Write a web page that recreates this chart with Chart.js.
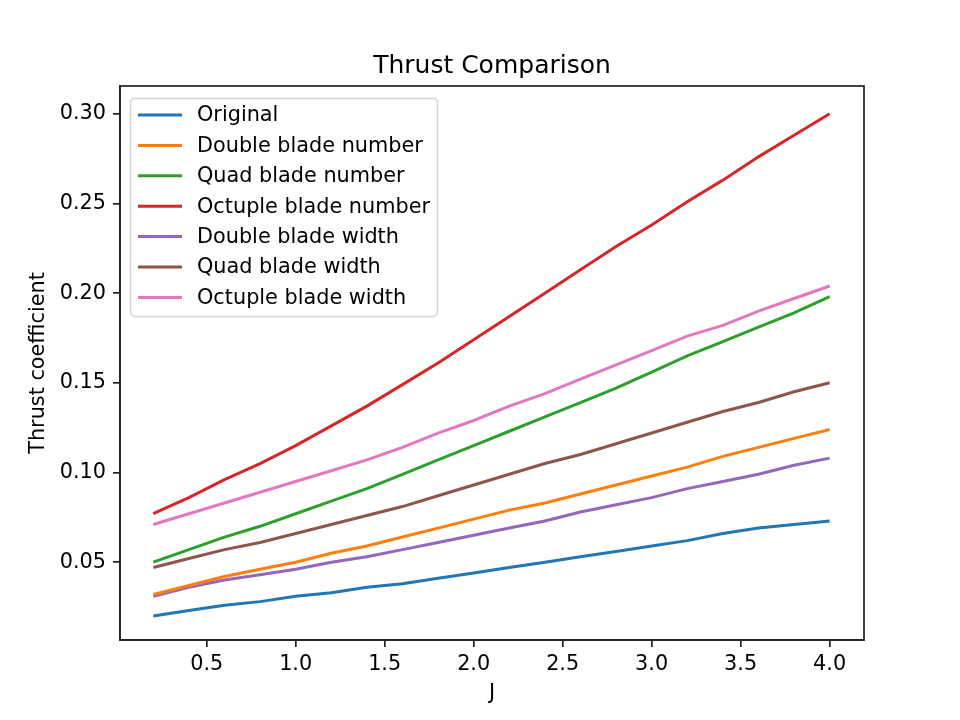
<!DOCTYPE html>
<html>
<head>
<meta charset="utf-8">
<script src="https://cdn.jsdelivr.net/npm/chart.js@4.4.1/dist/chart.umd.min.js"></script>
<style>
  body { margin: 0; background: #fff; }
  canvas { display: block; }
</style>
</head>
<body>
<canvas id="thrustChart" width="960" height="720"></canvas>
<script>
const jValues = [0.2, 0.4, 0.6, 0.8, 1.0, 1.2, 1.4, 1.6, 1.8, 2.0, 2.2, 2.4, 2.6, 2.8, 3.0, 3.2, 3.4, 3.6, 3.8, 4.0];

const original = [0.020, 0.023, 0.026, 0.028, 0.031, 0.033, 0.036, 0.038, 0.041, 0.044, 0.047, 0.050, 0.053, 0.056, 0.059, 0.062, 0.066, 0.069, 0.071, 0.073];
const doubleNumber = [0.032, 0.037, 0.042, 0.046, 0.050, 0.055, 0.059, 0.064, 0.069, 0.074, 0.079, 0.083, 0.088, 0.093, 0.098, 0.103, 0.109, 0.114, 0.119, 0.124];
const quadNumber = [0.050, 0.057, 0.064, 0.070, 0.077, 0.084, 0.091, 0.099, 0.107, 0.115, 0.123, 0.131, 0.139, 0.147, 0.156, 0.165, 0.173, 0.181, 0.189, 0.198];
const octupleNumber = [0.077, 0.086, 0.096, 0.105, 0.115, 0.126, 0.137, 0.149, 0.161, 0.174, 0.187, 0.200, 0.213, 0.226, 0.238, 0.251, 0.263, 0.276, 0.288, 0.300];
const doubleWidth = [0.031, 0.036, 0.040, 0.043, 0.046, 0.050, 0.053, 0.057, 0.061, 0.065, 0.069, 0.073, 0.078, 0.082, 0.086, 0.091, 0.095, 0.099, 0.104, 0.108];
const quadWidth = [0.047, 0.052, 0.057, 0.061, 0.066, 0.071, 0.076, 0.081, 0.087, 0.093, 0.099, 0.105, 0.110, 0.116, 0.122, 0.128, 0.134, 0.139, 0.145, 0.150];
const octupleWidth = [0.071, 0.077, 0.083, 0.089, 0.095, 0.101, 0.107, 0.114, 0.122, 0.129, 0.137, 0.144, 0.152, 0.160, 0.168, 0.176, 0.182, 0.190, 0.197, 0.204];

const seriesLabels = ['Original', 'Double blade number', 'Quad blade number', 'Octuple blade number',
    'Double blade width', 'Quad blade width', 'Octuple blade width'];
const seriesValues = [original, doubleNumber, quadNumber, octupleNumber, doubleWidth, quadWidth, octupleWidth];
const seriesColors = ['#1f77b4', '#ff7f0e', '#2ca02c', '#d62728', '#9467bd', '#8c564b', '#e377c2'];

const xTicks = [0.5, 1.0, 1.5, 2.0, 2.5, 3.0, 3.5, 4.0];
const yTicks = [0.05, 0.10, 0.15, 0.20, 0.25, 0.30];

const FONT = 'DejaVu Sans';
const TEXT_SIZE = 20.8;

// title, frame box and in-axes legend, matplotlib style
const decorations = {
    id: 'decorations',
    afterDraw(chart) {
        const { ctx, chartArea } = chart;
        ctx.save();

        ctx.strokeStyle = '#222';
        ctx.lineWidth = 1.7;
        ctx.strokeRect(chartArea.left, chartArea.top,
            chartArea.right - chartArea.left, chartArea.bottom - chartArea.top);

        ctx.fillStyle = '#000';
        ctx.font = '25px "' + FONT + '"';
        ctx.textAlign = 'center';
        ctx.textBaseline = 'middle';
        ctx.fillText('Thrust Comparison', (chartArea.left + chartArea.right) / 2, 66);

        // legend
        const bx = chartArea.left + 10, by = chartArea.top + 12;
        const bw = 307, bh = 218;
        ctx.beginPath();
        ctx.roundRect(bx + 0.5, by + 0.5, bw, bh, 4);
        ctx.fillStyle = 'rgba(255,255,255,0.8)';
        ctx.fill();
        ctx.strokeStyle = '#d6d6d6';
        ctx.lineWidth = 1.5;
        ctx.stroke();

        ctx.font = TEXT_SIZE + 'px "' + FONT + '"';
        ctx.textAlign = 'left';
        chart.data.datasets.forEach((ds, i) => {
            const y = by + 17 + i * 30.4;
            ctx.beginPath();
            ctx.moveTo(bx + 8, y);
            ctx.lineTo(bx + 52, y);
            ctx.strokeStyle = ds.borderColor;
            ctx.lineWidth = 3;
            ctx.stroke();
            ctx.fillStyle = '#000';
            ctx.fillText(ds.label, bx + 67, y + 1);
        });
        ctx.restore();
    }
};

new Chart(document.getElementById('thrustChart'), {
    type: 'line',
    data: {
        datasets: seriesLabels.map((label, i) => ({
            label: label,
            data: jValues.map((j, k) => ({ x: j, y: seriesValues[i][k] })),
            borderColor: seriesColors[i],
            backgroundColor: seriesColors[i],
            borderWidth: 3,
            pointRadius: 0,
            tension: 0,
            fill: false
        }))
    },
    options: {
        responsive: false,
        animation: false,
        devicePixelRatio: 1,
        layout: { padding: { top: 86, right: 96, left: 0, bottom: 0 } },
        plugins: {
            legend: { display: false },
            title: { display: false },
            tooltip: { enabled: false }
        },
        scales: {
            x: {
                type: 'linear',
                min: 0.013,
                max: 4.193,
                afterBuildTicks: scale => { scale.ticks = xTicks.map(v => ({ value: v })); },
                afterFit: scale => { scale.height = 80; },
                ticks: {
                    callback: v => v.toFixed(1),
                    color: '#000',
                    font: { family: FONT, size: TEXT_SIZE },
                    padding: 5,
                    maxRotation: 0,
                    autoSkip: false
                },
                grid: { drawOnChartArea: false, tickLength: 7, color: '#222', lineWidth: 1.7 },
                border: { color: '#222', width: 1.7 },
                title: {
                    display: true,
                    text: 'J',
                    color: '#000',
                    font: { family: FONT, size: TEXT_SIZE },
                    padding: { top: 0, bottom: 14 }
                }
            },
            y: {
                type: 'linear',
                min: 0.0066,
                max: 0.3155,
                afterBuildTicks: scale => { scale.ticks = yTicks.map(v => ({ value: v })); },
                afterFit: scale => { scale.width = 120; },
                ticks: {
                    callback: v => v.toFixed(2),
                    color: '#000',
                    font: { family: FONT, size: TEXT_SIZE },
                    padding: 7,
                    autoSkip: false
                },
                grid: { drawOnChartArea: false, tickLength: 7, color: '#222', lineWidth: 1.7 },
                border: { color: '#222', width: 1.7 },
                title: {
                    display: true,
                    text: 'Thrust coefficient',
                    color: '#000',
                    font: { family: FONT, size: TEXT_SIZE },
                    padding: { top: 26, bottom: 0 }
                }
            }
        }
    },
    plugins: [decorations]
});
</script>
</body>
</html>
